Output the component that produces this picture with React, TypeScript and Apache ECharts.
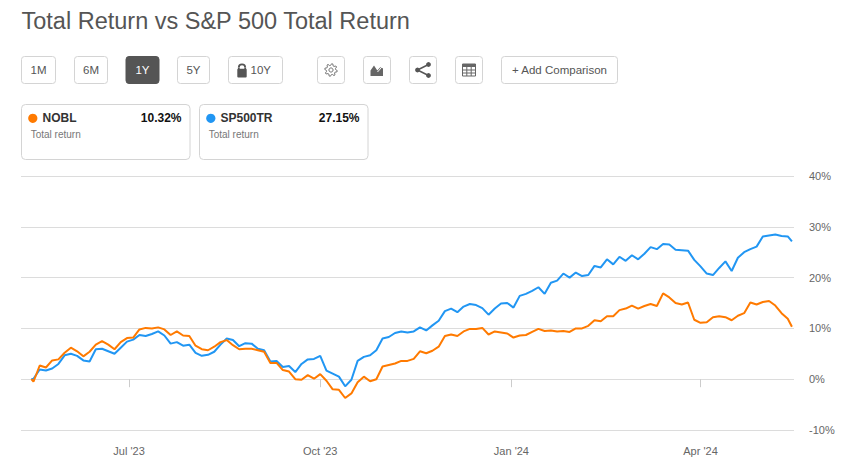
import * as echarts from 'echarts';
import { useEffect, useRef } from 'react';

// sampled dates (roughly every 3 days) and total return in %
const dates = [
  '2023-05-15',
  '2023-05-16', '2023-05-19', '2023-05-22', '2023-05-25', '2023-05-28', '2023-05-31', '2023-06-03', '2023-06-06', '2023-06-09', '2023-06-12',
  '2023-06-15', '2023-06-18', '2023-06-21', '2023-06-24', '2023-06-27', '2023-06-30', '2023-07-03', '2023-07-06', '2023-07-09', '2023-07-12',
  '2023-07-15', '2023-07-18', '2023-07-21', '2023-07-24', '2023-07-27', '2023-07-30', '2023-08-02', '2023-08-05', '2023-08-08', '2023-08-11',
  '2023-08-14', '2023-08-17', '2023-08-20', '2023-08-23', '2023-08-26', '2023-08-29', '2023-09-01', '2023-09-04', '2023-09-07', '2023-09-10',
  '2023-09-13', '2023-09-16', '2023-09-19', '2023-09-22', '2023-09-25', '2023-09-28', '2023-10-01', '2023-10-04', '2023-10-07', '2023-10-10',
  '2023-10-13', '2023-10-16', '2023-10-19', '2023-10-22', '2023-10-25', '2023-10-28', '2023-10-31', '2023-11-03', '2023-11-06', '2023-11-09',
  '2023-11-12', '2023-11-15', '2023-11-18', '2023-11-21', '2023-11-24', '2023-11-27', '2023-11-30', '2023-12-03', '2023-12-06', '2023-12-09',
  '2023-12-12', '2023-12-15', '2023-12-18', '2023-12-21', '2023-12-24', '2023-12-27', '2023-12-30', '2024-01-02', '2024-01-05', '2024-01-08',
  '2024-01-11', '2024-01-14', '2024-01-17', '2024-01-20', '2024-01-23', '2024-01-26', '2024-01-29', '2024-02-01', '2024-02-04', '2024-02-07',
  '2024-02-10', '2024-02-13', '2024-02-16', '2024-02-19', '2024-02-22', '2024-02-25', '2024-02-28', '2024-03-02', '2024-03-05', '2024-03-08',
  '2024-03-11', '2024-03-14', '2024-03-17', '2024-03-20', '2024-03-23', '2024-03-26', '2024-03-29', '2024-04-01', '2024-04-04', '2024-04-07',
  '2024-04-10', '2024-04-13', '2024-04-16', '2024-04-19', '2024-04-22', '2024-04-25', '2024-04-28', '2024-05-01', '2024-05-04', '2024-05-07',
  '2024-05-10', '2024-05-13',
  '2024-05-15'
];

const nobl = [
  0,
  -0.5, 2.7, 2.3, 3.7, 3.9, 5.2, 6.2, 5.5, 4.5, 5.4,
  6.8, 7.5, 6.8, 5.9, 7.3, 8.1, 8.2, 9.8, 10.1, 10.0,
  10.2, 9.8, 8.7, 9.4, 8.6, 8.5, 6.6, 5.9, 5.7, 6.4,
  7.3, 7.7, 6.7, 5.9, 6.0, 6.0, 5.7, 5.4, 3.2, 3.2,
  1.8, 1.5, 0.0, -0.1, 0.8, 0.1, 1.0, -0.3, -2.0, -2.1,
  -3.7, -2.8, -0.6, 0.5, -0.4, 0.0, 2.5, 2.8, 3.1, 3.6,
  3.6, 4.0, 5.5, 5.1, 5.6, 6.4, 8.5, 8.8, 8.5, 9.4,
  9.9, 9.9, 10.1, 8.8, 9.4, 9.2, 9.0, 8.2, 8.6, 8.7,
  9.3, 9.9, 9.5, 9.6, 9.4, 9.5, 9.3, 10.0, 10.0, 10.5,
  11.6, 11.4, 12.4, 12.4, 13.6, 13.9, 14.5, 13.9, 14.4, 14.8,
  14.4, 16.9, 16.1, 15.0, 14.7, 15.1, 11.7, 11.1, 11.2, 12.2,
  12.4, 12.2, 11.6, 12.5, 13.0, 15.1, 14.7, 15.2, 15.4, 14.5,
  13.0, 11.9,
  10.32
];

const sp500tr = [
  0,
  0.1, 1.9, 1.7, 2.1, 3.0, 4.7, 5.0, 4.6, 3.7, 3.5,
  5.9, 6.0, 5.5, 5.0, 6.2, 7.4, 7.8, 8.7, 8.5, 8.9,
  9.4, 8.6, 7.0, 7.3, 6.6, 6.8, 5.2, 4.6, 4.8, 5.4,
  6.8, 8.0, 7.7, 6.5, 7.1, 7.0, 6.0, 5.7, 3.5, 3.6,
  2.4, 2.6, 1.4, 3.0, 3.9, 4.0, 4.6, 1.7, 1.1, 0.5,
  -1.4, -0.1, 3.6, 4.4, 4.7, 5.7, 8.0, 8.3, 9.1, 9.4,
  9.2, 9.4, 10.2, 9.6, 10.6, 11.5, 13.4, 13.9, 13.2, 14.3,
  14.8, 14.6, 14.0, 12.7, 13.9, 14.9, 15.0, 14.1, 16.4, 16.8,
  17.4, 18.1, 16.8, 19.0, 19.4, 20.8, 20.0, 21.0, 20.3, 20.5,
  22.3, 22.0, 23.6, 22.6, 24.1, 23.3, 24.4, 23.6, 24.7, 26.0,
  25.6, 26.6, 26.5, 25.5, 25.4, 25.3, 23.5, 22.2, 20.8, 20.5,
  21.9, 23.2, 21.3, 23.9, 25.0, 25.6, 26.1, 28.1, 28.3, 28.5,
  28.2, 28.1,
  27.15
];

const tickDates = ['2023-07-01', '2023-10-01', '2024-01-01', '2024-04-01'];
const tickLabels = ["Jul '23", "Oct '23", "Jan '24", "Apr '24"];
const ranges = ['1M', '6M', '1Y', '5Y', '10Y'];
const activeRange = '1Y';

const FONT = 'Arial, "Liberation Sans", Helvetica, sans-serif';
const ORANGE = '#ff7a00';
const BLUE = '#2196f3';
const MUTED = '#666';
const BORDER = '#d4d4d4';

function toTime(d: string) {
  const [y, m, day] = d.split('-').map(Number);
  return new Date(y, m - 1, day).getTime();
}

const tickTimes = tickDates.map(toTime);

function pct(v: number) {
  return v.toFixed(2) + '%';
}

function gearPoints(cx: number, cy: number) {
  const pts: number[][] = [];
  for (let j = 0; j < 32; j++) {
    const a = (j * Math.PI) / 16 + Math.PI / 32;
    const r = j % 4 < 2 ? 6.3 : 4.6;
    pts.push([cx + r * Math.cos(a), cy + r * Math.sin(a)]);
  }
  return pts;
}

function buildGraphic() {
  const els: any[] = [];

  els.push({
    type: 'text',
    x: 21.5,
    y: 20.5,
    style: { text: 'Total Return vs S&P 500 Total Return', font: `23.5px ${FONT}`, fill: '#555', verticalAlign: 'middle' }
  });

  // range buttons
  const btn = [
    { x: 21.5, w: 34 },
    { x: 74.5, w: 33 },
    { x: 126, w: 33 },
    { x: 177.5, w: 32 },
    { x: 228.5, w: 54 }
  ];
  ranges.forEach((label, i) => {
    const b = btn[i];
    const active = label === activeRange;
    els.push({
      type: 'rect',
      shape: { x: b.x, y: 56.5, width: b.w, height: 27, r: 3 },
      style: { fill: active ? '#555' : '#fff', stroke: active ? '#555' : BORDER, lineWidth: 1 }
    });
    if (label === '10Y') {
      els.push({
        type: 'arc',
        shape: { cx: 242, cy: 67.6, r: 3.2, startAngle: Math.PI, endAngle: Math.PI * 2 },
        style: { stroke: '#555', lineWidth: 1.8, fill: 'none' }
      });
      els.push({ type: 'line', shape: { x1: 238.8, y1: 67.6, x2: 238.8, y2: 69 }, style: { stroke: '#555', lineWidth: 1.8 } });
      els.push({ type: 'line', shape: { x1: 245.2, y1: 67.6, x2: 245.2, y2: 69 }, style: { stroke: '#555', lineWidth: 1.8 } });
      els.push({ type: 'rect', shape: { x: 237.3, y: 68.8, width: 9.4, height: 8.6, r: 1 }, style: { fill: '#555' } });
      els.push({
        type: 'text',
        x: 250.5,
        y: 70,
        style: { text: label, font: `11.5px ${FONT}`, fill: '#555', verticalAlign: 'middle' }
      });
    } else {
      els.push({
        type: 'text',
        x: b.x + b.w / 2,
        y: 70,
        style: { text: label, font: `11.5px ${FONT}`, fill: active ? '#fff' : '#555', align: 'center', verticalAlign: 'middle' }
      });
    }
  });

  // icon buttons
  [317.5, 363.5, 409.5, 455.5].forEach((x) => {
    els.push({
      type: 'rect',
      shape: { x, y: 56.5, width: 27, height: 27, r: 3 },
      style: { fill: '#fff', stroke: BORDER, lineWidth: 1 }
    });
  });

  // gear
  els.push({ type: 'polygon', shape: { points: gearPoints(331, 70) }, style: { fill: 'none', stroke: '#777', lineWidth: 1 } });
  els.push({ type: 'circle', shape: { cx: 331, cy: 70, r: 2.1 }, style: { fill: 'none', stroke: '#777', lineWidth: 1 } });

  // area chart icon
  els.push({
    type: 'polygon',
    shape: { points: [[370.5, 76], [370.5, 70.5], [374, 65.5], [377.3, 70.5], [380.5, 67], [383, 68.5], [383, 76]] },
    style: { fill: '#666' }
  });
  els.push({
    type: 'polyline',
    shape: { points: [[377.5, 72], [380.2, 69], [383.5, 64.5]] },
    style: { stroke: '#fff', lineWidth: 1, fill: 'none' }
  });

  // share icon
  els.push({ type: 'line', shape: { x1: 417.5, y1: 70, x2: 428.5, y2: 64.5 }, style: { stroke: '#555', lineWidth: 1.4 } });
  els.push({ type: 'line', shape: { x1: 417.5, y1: 70, x2: 428.5, y2: 75.5 }, style: { stroke: '#555', lineWidth: 1.4 } });
  els.push({ type: 'circle', shape: { cx: 417.5, cy: 70, r: 2.4 }, style: { fill: '#555' } });
  els.push({ type: 'circle', shape: { cx: 428.5, cy: 64.5, r: 2.4 }, style: { fill: '#555' } });
  els.push({ type: 'circle', shape: { cx: 428.5, cy: 75.5, r: 2.4 }, style: { fill: '#555' } });

  // table icon
  els.push({ type: 'rect', shape: { x: 462.5, y: 64, width: 13, height: 12 }, style: { fill: 'none', stroke: '#666', lineWidth: 1 } });
  els.push({ type: 'rect', shape: { x: 462.5, y: 64, width: 13, height: 3 }, style: { fill: '#666' } });
  [466.8, 471.2].forEach((x) => {
    els.push({ type: 'line', shape: { x1: x, y1: 67, x2: x, y2: 76 }, style: { stroke: '#666', lineWidth: 1 } });
  });
  [70, 73].forEach((y) => {
    els.push({ type: 'line', shape: { x1: 462.5, y1: y, x2: 475.5, y2: y }, style: { stroke: '#666', lineWidth: 1 } });
  });

  // add comparison
  els.push({
    type: 'rect',
    shape: { x: 501.5, y: 56.5, width: 116, height: 27, r: 3 },
    style: { fill: '#fff', stroke: BORDER, lineWidth: 1 }
  });
  els.push({
    type: 'text',
    x: 559.5,
    y: 70,
    style: { text: '+ Add Comparison', font: `11.5px ${FONT}`, fill: '#555', align: 'center', verticalAlign: 'middle' }
  });

  // legend cards
  const cards = [
    { name: 'NOBL', color: ORANGE, values: nobl, x: 21.5 },
    { name: 'SP500TR', color: BLUE, values: sp500tr, x: 199.5 }
  ];
  cards.forEach((c) => {
    els.push({
      type: 'rect',
      shape: { x: c.x, y: 104.5, width: 168.5, height: 55, r: 4 },
      style: { fill: '#fff', stroke: BORDER, lineWidth: 1 }
    });
    els.push({ type: 'circle', shape: { cx: c.x + 11.3, cy: 118.3, r: 4.6 }, style: { fill: c.color } });
    els.push({
      type: 'text',
      x: c.x + 21,
      y: 118,
      style: { text: c.name, font: `bold 12px ${FONT}`, fill: '#333', verticalAlign: 'middle' }
    });
    els.push({
      type: 'text',
      x: c.x + 160,
      y: 118,
      style: { text: pct(c.values[c.values.length - 1]), font: `bold 12px ${FONT}`, fill: '#111', align: 'right', verticalAlign: 'middle' }
    });
    els.push({
      type: 'text',
      x: c.x + 9.2,
      y: 134.5,
      style: { text: 'Total return', font: `10px ${FONT}`, fill: '#777', verticalAlign: 'middle' }
    });
  });

  return els;
}

export default function App() {
  const elRef = useRef<HTMLDivElement | null>(null);

  useEffect(() => {
    if (!elRef.current) return;
    const chart = echarts.init(elRef.current, undefined, { renderer: 'svg' });

    chart.setOption({
      animation: false,
      backgroundColor: '#fff',
      textStyle: { fontFamily: FONT },
      grid: { left: 21, right: 72, top: 176, bottom: 42 },
      xAxis: {
        // dates as timestamps on a linear scale, ticks only at the quarter starts
        type: 'value',
        min: toTime('2023-05-10'),
        max: toTime('2024-05-16'),
        axisLine: { show: false },
        splitLine: { show: false },
        axisTick: { show: true, customValues: tickTimes, length: 8, lineStyle: { color: '#ccc' } },
        axisLabel: {
          customValues: tickTimes,
          formatter: (v: number) => {
            let best = 0;
            tickTimes.forEach((t, i) => {
              if (Math.abs(t - v) < Math.abs(tickTimes[best] - v)) best = i;
            });
            return tickLabels[best];
          },
          color: MUTED,
          fontSize: 11,
          margin: 15
        }
      },
      yAxis: {
        type: 'value',
        position: 'right',
        min: -10,
        max: 40,
        interval: 10,
        axisLine: { show: false },
        axisTick: { show: false },
        axisLabel: { formatter: '{value}%', color: MUTED, fontSize: 11, margin: 15 },
        splitLine: { lineStyle: { color: '#dcdcdc', width: 1 } }
      },
      series: [
        {
          type: 'line',
          name: 'SP500TR',
          data: dates.map((d, i) => [toTime(d), sp500tr[i]]),
          showSymbol: false,
          lineStyle: { width: 2, color: BLUE },
          itemStyle: { color: BLUE },
          z: 2
        },
        {
          type: 'line',
          name: 'NOBL',
          data: dates.map((d, i) => [toTime(d), nobl[i]]),
          showSymbol: false,
          lineStyle: { width: 2, color: ORANGE },
          itemStyle: { color: ORANGE },
          z: 3
        }
      ],
      graphic: buildGraphic()
    });

    return () => {
      chart.dispose();
    };
  }, []);

  return <div ref={elRef} style={{ position: 'fixed', left: 0, top: 0, width: 866, height: 472 }} />;
}
